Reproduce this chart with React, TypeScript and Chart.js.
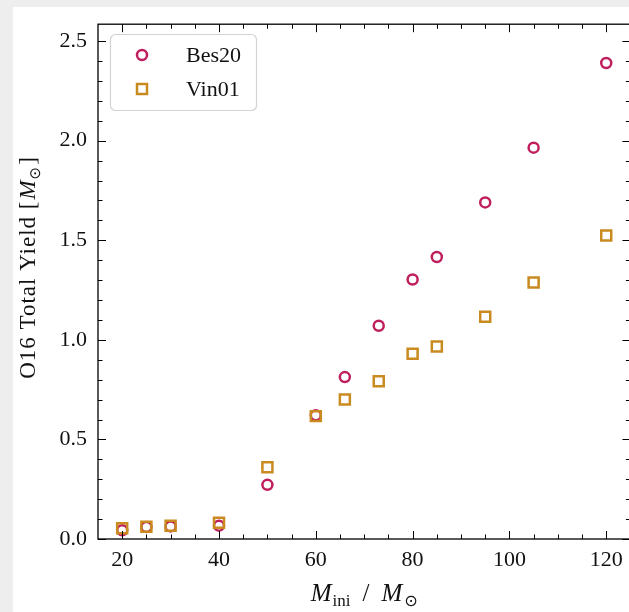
import React, { useEffect, useRef } from "react";
import { Chart, registerables } from "chart.js";

Chart.register(...registerables);

// ---- data ----
const masses = [20, 25, 30, 40, 50, 60, 66, 73, 80, 85, 95, 105, 120];
const bes20 = [0.044, 0.06, 0.063, 0.067, 0.272, 0.622, 0.813, 1.071, 1.303, 1.416, 1.69, 1.965, 2.39];
const vin01 = [0.054, 0.061, 0.067, 0.081, 0.36, 0.617, 0.7, 0.792, 0.93, 0.966, 1.116, 1.288, 1.524];

const xTicks = [20, 40, 60, 80, 100, 120];
const yTicks = [0, 0.5, 1.0, 1.5, 2.0, 2.5];
const xMinorTicks = [25, 30, 35, 45, 50, 55, 65, 70, 75, 85, 90, 95, 105, 110, 115];
const yMinorTicks = [0.1, 0.2, 0.3, 0.4, 0.6, 0.7, 0.8, 0.9, 1.1, 1.2, 1.3, 1.4, 1.6, 1.7, 1.8, 1.9, 2.1, 2.2, 2.3, 2.4];

const seriesNames = ["Bes20", "Vin01"];
const COLOR_BES = "#c01f5e";
const COLOR_VIN = "#c98b1f";

const SERIF = "'Liberation Serif', 'Times New Roman', serif";
const SYM = "'DejaVu Sans', 'Liberation Serif', serif";

const framePlugin = {
  id: "frame",
  afterDatasetsDraw(chart: any) {
    const { ctx, chartArea: a, scales } = chart;
    const xs = scales.x;
    const ys = scales.y;
    ctx.save();
    ctx.strokeStyle = "#000";
    ctx.lineWidth = 1;
    const major = 8;
    const minor = 4.5;
    const tickX = (v: number, len: number) => {
      const px = Math.round(xs.getPixelForValue(v)) + 0.5;
      ctx.beginPath();
      ctx.moveTo(px, a.bottom);
      ctx.lineTo(px, a.bottom - len);
      ctx.moveTo(px, a.top);
      ctx.lineTo(px, a.top + len);
      ctx.stroke();
    };
    const tickY = (v: number, len: number) => {
      const py = Math.round(ys.getPixelForValue(v)) + 0.5;
      ctx.beginPath();
      ctx.moveTo(a.left, py);
      ctx.lineTo(a.left + len, py);
      ctx.moveTo(a.right, py);
      ctx.lineTo(a.right - len, py);
      ctx.stroke();
    };
    xTicks.forEach((v) => tickX(v, major));
    xMinorTicks.forEach((v) => tickX(v, minor));
    yTicks.forEach((v) => tickY(v, major));
    yMinorTicks.forEach((v) => tickY(v, minor));
    ctx.lineWidth = 1.3;
    ctx.strokeRect(a.left, a.top, a.right - a.left, a.bottom - a.top);
    ctx.restore();
  },
  afterDraw(chart: any) {
    const { ctx, chartArea: a } = chart;
    ctx.save();
    // ---- legend ----
    const lx = 110.5, ly = 34.5, lw = 146, lh = 76;
    ctx.beginPath();
    (ctx as any).roundRect(lx, ly, lw, lh, 5);
    ctx.fillStyle = "rgba(255,255,255,0.85)";
    ctx.fill();
    ctx.strokeStyle = "#d3d3d3";
    ctx.lineWidth = 1.2;
    ctx.stroke();

    ctx.lineWidth = 2.5;
    ctx.strokeStyle = COLOR_BES;
    ctx.beginPath();
    ctx.arc(142, 55, 5, 0, Math.PI * 2);
    ctx.stroke();
    ctx.strokeStyle = COLOR_VIN;
    ctx.strokeRect(137, 84, 10, 10);

    ctx.fillStyle = "#111";
    ctx.font = `22px ${SERIF}`;
    ctx.textBaseline = "middle";
    ctx.textAlign = "left";
    ctx.fillText(seriesNames[0], 186, 56);
    ctx.fillText(seriesNames[1], 186, 90);

    // ---- x title: M_ini / M_sun ----
    ctx.textBaseline = "alphabetic";
    const bigI = `italic 25px ${SERIF}`;
    const big = `25px ${SERIF}`;
    const small = `17px ${SERIF}`;
    const smallSym = `16px ${SYM}`;
    const parts: [string, string, number, number][] = [
      ["M", bigI, 0, 0],
      ["ini", small, 5, 1],
      ["/", big, 0, 12],
      ["M", bigI, 0, 12],
      ["\u2299", smallSym, 5, 2],
    ];
    let total = 0;
    parts.forEach(([t, f, , g]) => {
      ctx.font = f;
      total += g + ctx.measureText(t).width;
    });
    let cx = (a.left + a.right) / 2 - total / 2;
    const base = 601;
    parts.forEach(([t, f, dy, g]) => {
      ctx.font = f;
      cx += g;
      ctx.fillText(t, cx, base + dy);
      cx += ctx.measureText(t).width;
    });

    // ---- y title ----
    ctx.translate(35, 268);
    ctx.rotate(-Math.PI / 2);
    const yparts: [string, string, number, number, number][] = [
      ["O16 Total Yield [", `23px ${SERIF}`, 0, 0, 1],
      ["M", `italic 23px ${SERIF}`, 0, 1, 0],
      ["\u2299", `15px ${SYM}`, 5, 1, 0],
      ["]", `23px ${SERIF}`, 0, 2, 0],
    ];
    let ytotal = 0;
    yparts.forEach(([t, f, , g, ls]) => {
      ctx.font = f;
      (ctx as any).letterSpacing = `${ls}px`;
      ytotal += g + ctx.measureText(t).width;
    });
    let yx = -ytotal / 2;
    yparts.forEach(([t, f, dy, g, ls]) => {
      ctx.font = f;
      (ctx as any).letterSpacing = `${ls}px`;
      yx += g;
      ctx.fillText(t, yx, dy);
      yx += ctx.measureText(t).width;
    });
    (ctx as any).letterSpacing = "0px";
    ctx.restore();
  },
};

export default function App() {
  const ref = useRef<HTMLCanvasElement | null>(null);

  useEffect(() => {
    if (!ref.current) return;
    const chart = new Chart(ref.current, {
      type: "scatter",
      data: {
        datasets: [
          {
            label: seriesNames[1],
            data: masses.map((m, i) => ({ x: m, y: vin01[i] })),
            pointStyle: "rect",
            pointRadius: 7.07,
            pointBorderWidth: 2.5,
            borderColor: COLOR_VIN,
            backgroundColor: "rgba(0,0,0,0)",
            order: 0,
          },
          {
            label: seriesNames[0],
            data: masses.map((m, i) => ({ x: m, y: bes20[i] })),
            pointStyle: "circle",
            pointRadius: 5,
            pointBorderWidth: 2.5,
            borderColor: COLOR_BES,
            backgroundColor: "rgba(0,0,0,0)",
            order: 1,
          },
        ],
      },
      options: {
        animation: false,
        responsive: false,
        maintainAspectRatio: false,
        events: [],
        layout: { padding: { top: 22, right: 9, bottom: 0, left: 0 } },
        plugins: {
          legend: { display: false },
          tooltip: { enabled: false },
        },
        scales: {
          x: {
            type: "linear",
            min: 15,
            max: 125,
            grid: { display: false, drawTicks: false },
            border: { display: false },
            ticks: {
              font: { size: 22, family: SERIF },
              color: "#111",
              padding: 8,
              maxRotation: 0,
              autoSkip: false,
              callback: (v: any) => String(v),
            },
            afterBuildTicks: (s: any) => {
              s.ticks = xTicks.map((v) => ({ value: v }));
            },
            afterFit: (s: any) => {
              s.height = 73;
            },
          },
          y: {
            type: "linear",
            min: 0,
            max: 2.585,
            grid: { display: false, drawTicks: false },
            border: { display: false },
            ticks: {
              font: { size: 22, family: SERIF },
              color: "#111",
              padding: 11,
              autoSkip: false,
              callback: (v: any) => Number(v).toFixed(1),
            },
            afterBuildTicks: (s: any) => {
              s.ticks = yTicks.map((v) => ({ value: v }));
            },
            afterFit: (s: any) => {
              s.width = 98;
            },
          },
        },
      },
      plugins: [framePlugin],
    } as any);
    return () => chart.destroy();
  }, []);

  return (
    <div
      style={{
        position: "fixed",
        left: 0,
        top: 0,
        width: 629,
        height: 612,
        overflow: "hidden",
        background: "#eeeeee",
      }}
    >
      <div
        style={{
          position: "absolute",
          left: 13,
          top: 7,
          right: 0,
          bottom: 0,
          background: "#ffffff",
        }}
      />
      <canvas
        ref={ref}
        width={640}
        height={612}
        style={{ position: "absolute", left: 0, top: 0, width: 640, height: 612 }}
      />
    </div>
  );
}
